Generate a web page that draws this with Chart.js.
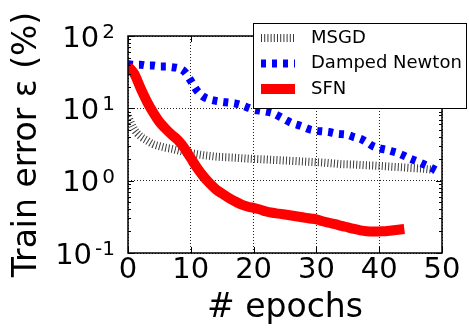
<!DOCTYPE html>
<html><head><meta charset="utf-8">
<script src="https://cdn.jsdelivr.net/npm/chart.js@4.4.0/dist/chart.umd.min.js"></script>
<style>html,body{margin:0;padding:0;background:#fff;}canvas{display:block;}</style>
</head><body>
<canvas id="c" width="469" height="328"></canvas>
<script>
const epochs = [0,1,2,3,4,5,6,7,8,9,10,11,12,13,14,15,16,17,18,19,20,21,22,23,24,25,26,27,28,29,30,31,32,33,34,35,36,37,38,39,40,41,42,43,44,45,46,47,48,49];
const msgd = [7.7,5.1,4.1,3.6,3.2,3.0,2.85,2.75,2.62,2.5,2.4,2.32,2.25,2.2,2.15,2.12,2.1,2.08,2.05,2.02,2.0,1.98,1.96,1.94,1.92,1.9,1.88,1.86,1.84,1.82,1.8,1.78,1.75,1.72,1.69,1.68,1.67,1.65,1.63,1.62,1.6,1.58,1.56,1.54,1.52,1.5,1.48,1.46,1.43,1.4];
const dampedNewton = [41,40,40,39,39,38,38,37,36,32,24,17.5,14.5,13.3,12.7,12.3,12,11.7,11.1,10.3,9.6,9.3,9.0,8.6,7.8,7.0,6.3,5.9,5.5,5.1,4.9,4.8,4.7,4.5,4.4,4.3,4.0,3.8,3.4,3.0,2.8,2.7,2.55,2.4,2.2,2.0,1.85,1.7,1.55,1.4];
const sfn = [38,30,19,12.5,8.8,6.5,5.2,4.3,3.6,2.8,2.05,1.5,1.15,0.92,0.76,0.66,0.58,0.52,0.47,0.44,0.42,0.40,0.375,0.36,0.35,0.34,0.33,0.32,0.31,0.30,0.292,0.275,0.262,0.25,0.237,0.226,0.215,0.206,0.2,0.198,0.199,0.2,0.205,0.21,0.215];
const xTicks = [0,10,20,30,40,50];
const yTicks = [0.1,1,10,100];
const seriesLabels = ['MSGD','Damped Newton','SFN'];
const xTitle = '# epochs';
const yTitle = 'Train error \u03b5 (%)';

const FONT = '"DejaVu Sans", sans-serif';
const toPts = vals => vals.map((v,i)=>({x:epochs[i], y:v}));

const decor = {
  id:'decor',
  beforeDraw(chart){
    const c = chart.ctx; c.save(); c.fillStyle='#fff'; c.fillRect(0,0,chart.width,chart.height); c.restore();
  },
  afterDatasetsDraw(chart){
    const {ctx, chartArea:a, scales:{x,y}} = chart;
    ctx.save();
    ctx.strokeStyle='#000'; ctx.lineWidth=1; ctx.setLineDash([]);
    const seg=(x1,y1,x2,y2)=>{ctx.beginPath();ctx.moveTo(x1,y1);ctx.lineTo(x2,y2);ctx.stroke();};
    xTicks.forEach(v=>{const p=Math.round(x.getPixelForValue(v))+0.5; seg(p,a.bottom,p,a.bottom-6); seg(p,a.top,p,a.top+6);});
    yTicks.forEach((v,i)=>{
      const p=Math.round(y.getPixelForValue(v))+0.5; seg(a.left,p,a.left+6,p); seg(a.right,p,a.right-6,p);
      if(i<yTicks.length-1){ for(let m=2;m<=9;m++){ const q=Math.round(y.getPixelForValue(v*m))+0.5; seg(a.left,q,a.left+3,q); seg(a.right,q,a.right-3,q);} }
    });
    ctx.lineWidth=1.5;
    ctx.strokeRect(a.left,a.top,a.right-a.left,a.bottom-a.top);
    ctx.restore();
  },
  afterDraw(chart){
    const {ctx, scales:{y}} = chart;
    ctx.save();
    ctx.fillStyle='#000'; ctx.textBaseline='alphabetic';
    yTicks.forEach(v=>{
      const p=y.getPixelForValue(v);
      const e=String(Math.round(Math.log10(v)));
      ctx.font='20px '+FONT; const ew=ctx.measureText(e).width;
      ctx.font='29px '+FONT; const bw=ctx.measureText('10').width;
      const right=115;
      ctx.textAlign='left';
      ctx.fillText('10', right-ew-bw-3, p+10.5);
      ctx.font='20px '+FONT;
      ctx.fillText(e, right-ew, p+2);
    });
    // legend
    const bx=253, by=23, bw=213, bh=85;
    ctx.fillStyle='#fff'; ctx.fillRect(bx,by,bw,bh);
    ctx.strokeStyle='#000'; ctx.lineWidth=1; ctx.strokeRect(bx+0.5,by+0.5,bw,bh);
    const rows=[38,63.5,89];
    chart.data.datasets.forEach((ds,i)=>{
      const ry=rows[i];
      ctx.save();
      ctx.strokeStyle=ds.borderColor; ctx.lineWidth=ds.borderWidth; ctx.setLineDash(ds.borderDash||[]); ctx.lineCap='butt';
      ctx.beginPath(); ctx.moveTo(261,ry); ctx.lineTo(295,ry); ctx.stroke();
      ctx.restore();
      ctx.fillStyle='#000'; ctx.font='18px '+FONT; ctx.textBaseline='middle'; ctx.textAlign='left';
      ctx.fillText(ds.label, 311, ry);
    });
    ctx.restore();
  }
};

new Chart(document.getElementById('c'), {
  type:'line',
  data:{datasets:[
    {label:seriesLabels[0], data:toPts(msgd), borderColor:'#3a3a3a', borderWidth:8, borderDash:[1,2.2], order:3},
    {label:seriesLabels[1], data:toPts(dampedNewton), borderColor:'#0000ff', borderWidth:8, borderDash:[5,6], order:2},
    {label:seriesLabels[2], data:toPts(sfn), borderColor:'#ff0000', borderWidth:10, order:1}
  ]},
  options:{
    responsive:false, animation:false, devicePixelRatio:1,
    elements:{point:{radius:0}, line:{cubicInterpolationMode:'monotone', fill:false, borderJoinStyle:'round', borderCapStyle:'butt'}},
    layout:{padding:{left:0,right:27,top:36,bottom:0}},
    plugins:{legend:{display:false}, tooltip:{enabled:false}},
    scales:{
      x:{type:'linear', min:0, max:50,
        afterFit:s=>{s.height=75;},
        afterBuildTicks:s=>{s.ticks=xTicks.map(v=>({value:v}));},
        ticks:{font:{family:FONT,size:29}, color:'#000', padding:0, maxRotation:0, autoSkip:false},
        grid:{color:'#222', lineWidth:1, drawTicks:false},
        border:{display:false, dash:[1,2]},
        title:{display:true, text:xTitle, font:{family:FONT,size:33}, color:'#000', padding:{top:0,bottom:0}}},
      y:{type:'logarithmic', min:0.1, max:100,
        afterFit:s=>{s.width=128;},
        afterBuildTicks:s=>{s.ticks=yTicks.map(v=>({value:v}));},
        ticks:{display:false},
        grid:{color:'#222', lineWidth:1, drawTicks:false},
        border:{display:false, dash:[1,2]},
        title:{display:true, text:yTitle, font:{family:FONT,size:33}, color:'#000', padding:{top:8,bottom:0}}}
    }
  },
  plugins:[decor]
});
</script>
</body></html>
